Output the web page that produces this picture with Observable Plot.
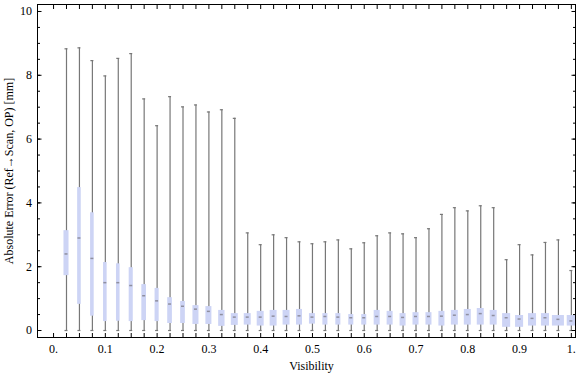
<!DOCTYPE html>
<html>
<head>
<meta charset="utf-8">
<script src="https://cdn.jsdelivr.net/npm/d3@7"></script>
<script src="https://cdn.jsdelivr.net/npm/@observablehq/plot@0.6"></script>
<style>
  html, body { margin: 0; padding: 0; background: #fff; }
  #chart svg { display: block; }
</style>
</head>
<body>
<div id="chart"></div>
<script>
// ---- data ----
const visibility = [0.025, 0.05, 0.075, 0.1, 0.125, 0.15, 0.175, 0.2, 0.225, 0.25,
                    0.275, 0.3, 0.325, 0.35, 0.375, 0.4, 0.425, 0.45, 0.475, 0.5,
                    0.525, 0.55, 0.575, 0.6, 0.625, 0.65, 0.675, 0.7, 0.725, 0.75,
                    0.775, 0.8, 0.825, 0.85, 0.875, 0.9, 0.925, 0.95, 0.975, 1.0];
const minVals = [0, 0, 0, 0, 0, 0, 0, 0, 0, 0,
                 0, 0, 0, 0, 0, 0, 0, 0, 0, 0,
                 0, 0, 0, 0, 0, 0, 0, 0, 0, 0,
                 0, 0, 0, 0, 0, 0, 0, 0, 0, 0];
const q1Vals = [1.72, 0.82, 0.45, 0.28, 0.29, 0.28, 0.31, 0.28, 0.22, 0.22,
                0.19, 0.19, 0.13, 0.16, 0.17, 0.14, 0.14, 0.17, 0.17, 0.20,
                0.17, 0.17, 0.17, 0.17, 0.17, 0.17, 0.14, 0.17, 0.17, 0.14,
                0.17, 0.17, 0.17, 0.17, 0.10, 0.10, 0.14, 0.14, 0.14, 0.14];
const medianVals = [2.40, 2.90, 2.26, 1.50, 1.50, 1.41, 1.09, 0.93, 0.83, 0.76,
                    0.67, 0.60, 0.50, 0.42, 0.42, 0.42, 0.45, 0.44, 0.46, 0.42,
                    0.44, 0.42, 0.40, 0.40, 0.44, 0.44, 0.41, 0.44, 0.44, 0.45,
                    0.48, 0.50, 0.53, 0.47, 0.40, 0.36, 0.38, 0.40, 0.35, 0.30];
const q3Vals = [3.13, 4.48, 3.69, 2.13, 2.09, 1.97, 1.44, 1.32, 1.03, 0.91,
                0.78, 0.75, 0.63, 0.53, 0.53, 0.60, 0.63, 0.63, 0.66, 0.53,
                0.53, 0.53, 0.50, 0.50, 0.63, 0.60, 0.53, 0.56, 0.56, 0.60,
                0.63, 0.66, 0.69, 0.63, 0.53, 0.47, 0.53, 0.53, 0.47, 0.47];
const maxVals = [8.83, 8.86, 8.46, 7.98, 8.53, 8.68, 7.26, 6.42, 7.33, 7.01,
                 7.07, 6.85, 6.92, 6.65, 3.06, 2.69, 3.00, 2.91, 2.78, 2.72,
                 2.78, 2.84, 2.56, 2.75, 2.97, 3.06, 3.03, 2.91, 3.19, 3.64,
                 3.85, 3.75, 3.91, 3.85, 2.22, 2.69, 2.37, 2.76, 2.84, 1.88];
// relative box weight (box widths differ in the reference)
const boxWeight = [0.42, 0.30, 0.30, 0.30, 0.30, 0.34, 0.39, 0.34, 0.39, 0.39,
                   0.50, 0.50, 0.53, 0.58, 0.58, 0.58, 0.58, 0.58, 0.50, 0.50,
                   0.42, 0.42, 0.42, 0.42, 0.50, 0.50, 0.50, 0.50, 0.50, 0.50,
                   0.58, 0.58, 0.58, 0.58, 0.67, 0.67, 0.67, 0.67, 1.00, 0.69];

const xTickValues = [0, 0.1, 0.2, 0.3, 0.4, 0.5, 0.6, 0.7, 0.8, 0.9, 1.0];
const xTickLabels = ["0.", "0.1", "0.2", "0.3", "0.4", "0.5", "0.6", "0.7", "0.8", "0.9", "1."];
const yTickValues = [0, 2, 4, 6, 8, 10];
const yTickLabels = ["0", "2", "4", "6", "8", "10"];
const xLabel = "Visibility";
const yLabel = "Absolute Error (Ref\u2192Scan, OP) [mm]";

// ---- build table ----
const boxes = visibility.map((v, i) => ({
  v, min: minVals[i], q1: q1Vals[i], med: medianVals[i], q3: q3Vals[i], max: maxVals[i], w: boxWeight[i]
}));
const halfUnit = 0.0116; // half-width of a full-weight box, in Visibility units

const xMinor = d3.range(0, 40 + 1).map(i => i * 0.025);
const yMinor = d3.range(0, 20 + 1).map(i => i * 0.5);

const font = "'Liberation Serif', 'Times New Roman', serif";
const boxFill = "#cdd4f5";
const whisker = "#777777";

const chart = Plot.plot({
  width: 576,
  height: 377,
  marginLeft: 37,
  marginRight: 1,
  marginTop: 4,
  marginBottom: 40,
  style: { fontFamily: font, fontSize: "12px", color: "#000", background: "#fff" },
  x: { domain: [-0.031, 1.008], axis: null },
  y: { domain: [-0.219, 10.219], axis: null },
  marks: [
    // whiskers
    Plot.ruleX(boxes, { x: "v", y1: "min", y2: "max", stroke: whisker, strokeWidth: 1.2 }),
    Plot.ruleY(boxes, { y: "max", x1: "v", x2: "v", insetLeft: -1.5, insetRight: -1.5, stroke: whisker, strokeWidth: 1.2 }),
    Plot.ruleY(boxes, { y: "min", x1: "v", x2: "v", insetLeft: -1.5, insetRight: -1.5, stroke: whisker, strokeWidth: 1.2 }),
    // boxes
    Plot.rect(boxes, {
      x1: d => d.v - d.w * halfUnit, x2: d => d.v + d.w * halfUnit,
      y1: "q1", y2: "q3", fill: boxFill
    }),
    // medians
    Plot.ruleY(boxes, { y: "med", x1: "v", x2: "v", insetLeft: -1.5, insetRight: -1.5, stroke: "#8f8f9f", strokeWidth: 1.5 }),
    // frame
    Plot.frame({ stroke: "#000", strokeWidth: 1 }),
    // x ticks (inward) bottom & top
    Plot.axisX({ anchor: "bottom", ticks: xMinor, tickSize: -4, tickFormat: () => "", label: null, stroke: "#000" }),
    Plot.axisX({ anchor: "top", ticks: xMinor, tickSize: -4, tickFormat: () => "", label: null, stroke: "#000" }),
    Plot.axisX({ anchor: "bottom", ticks: xTickValues, tickSize: 0, tickPadding: 6.5, fontSize: 12, label: null,
                 tickFormat: d => xTickLabels[xTickValues.indexOf(d)], fill: "#000" }),
    // y ticks (inward) left & right
    Plot.axisY({ anchor: "left", ticks: yMinor, tickSize: -3, tickFormat: () => "", label: null, stroke: "#000" }),
    Plot.axisY({ anchor: "left", ticks: yTickValues, tickSize: -4.5, tickFormat: () => "", label: null, stroke: "#000" }),
    Plot.axisY({ anchor: "right", ticks: yMinor, tickSize: -3, tickFormat: () => "", label: null, stroke: "#000" }),
    Plot.axisY({ anchor: "right", ticks: yTickValues, tickSize: -4.5, tickFormat: () => "", label: null, stroke: "#000" }),
    Plot.axisY({ anchor: "left", ticks: yTickValues, tickSize: 0, tickPadding: 5.5, fontSize: 12, label: null,
                 tickFormat: d => yTickLabels[yTickValues.indexOf(d)], fill: "#000" }),
    // axis titles
    Plot.text([xLabel], { frameAnchor: "bottom", dx: 5, dy: 29, lineAnchor: "middle", textAnchor: "middle", fontSize: 12, fill: "#000" }),
    Plot.text([yLabel], { frameAnchor: "left", rotate: -90, dx: -28.5, lineAnchor: "middle", textAnchor: "middle", fontSize: 12, fill: "#000" })
  ]
});
document.getElementById("chart").appendChild(chart);
</script>
</body>
</html>
